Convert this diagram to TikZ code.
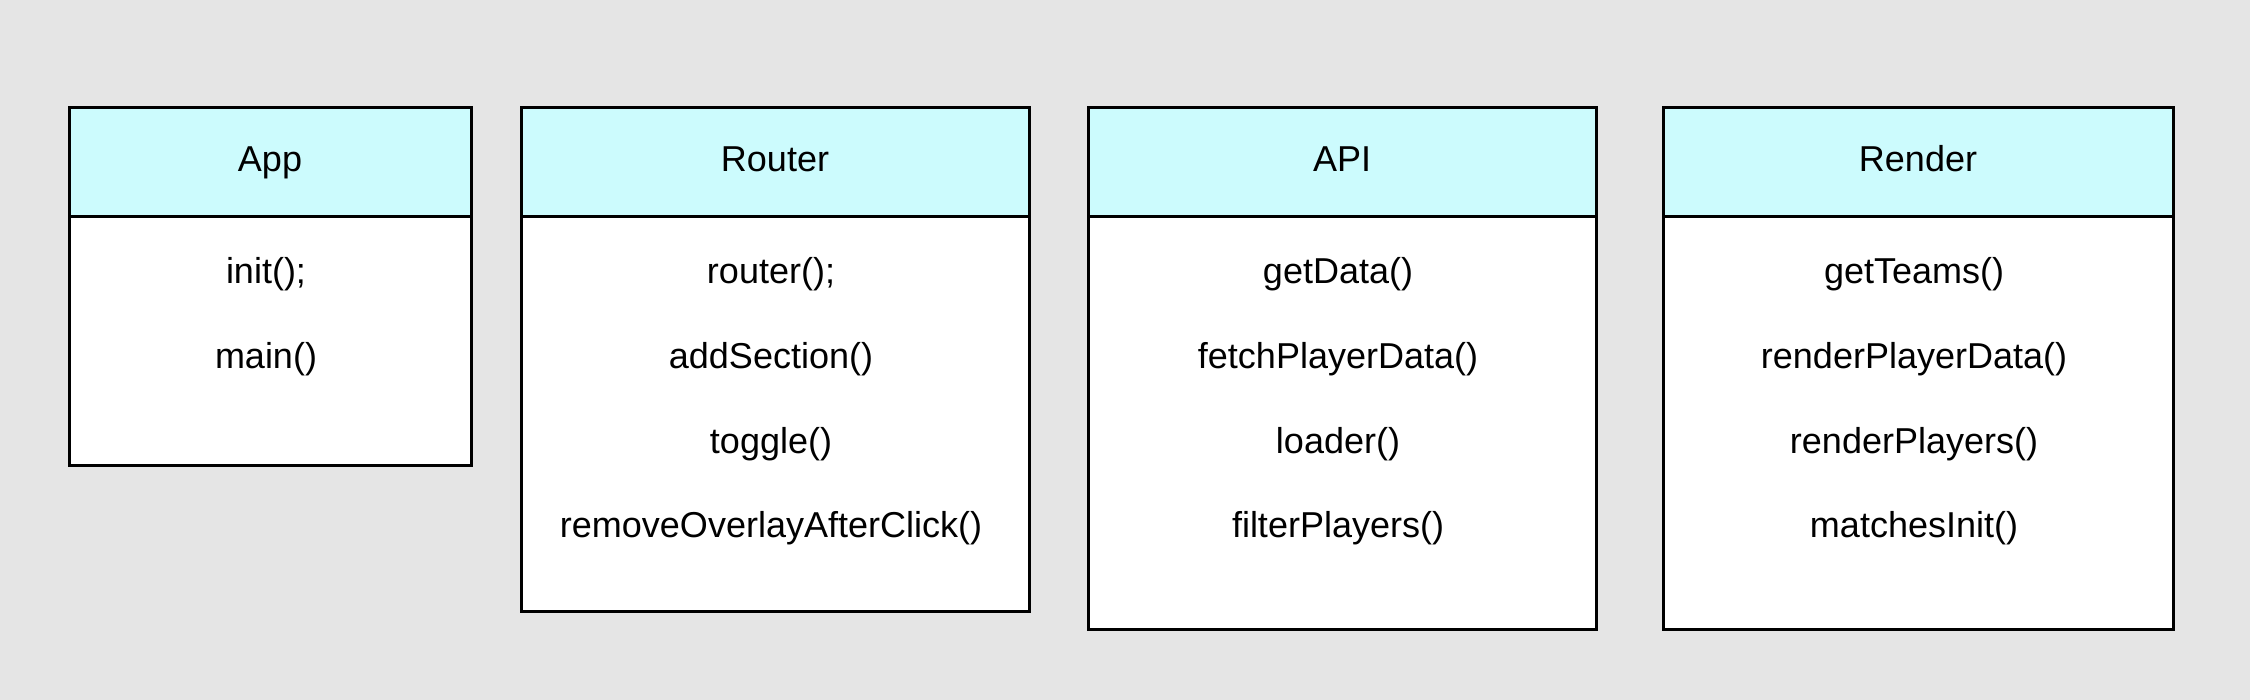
\documentclass[tikz,border=0pt]{standalone}
\usepackage{fontspec}
\setmainfont{Liberation Sans}
\usepackage{xcolor}
\usetikzlibrary{positioning}
\definecolor{bggray}{RGB}{229,229,229}
\definecolor{headcyan}{RGB}{204,251,253}
\tikzset{
        head/.style = {draw, rectangle, fill=headcyan,
            line width=3pt, outer sep=0pt, inner sep=0pt,
            minimum height=109pt, anchor=north west,
            text height=26pt, text depth=8pt,
            font=\fontsize{36}{43}\selectfont},
        body/.style = {draw, rectangle, fill=white,
            line width=3pt, outer sep=0pt, inner sep=0pt},
        item/.style = {inner sep=0pt, font=\fontsize{36}{43}\selectfont},
    }
\begin{document}
\begin{tikzpicture}[x=1pt,y=1pt,yscale=-1,xscale=1]
%background, sets the size of the picture
\fill[bggray] (0,0) rectangle (2250,700);

% App
\node[head, minimum width=402pt] (apphead) at (69,108) {App};
\node[body, minimum width=402pt, minimum height=248pt, below=0pt of apphead] (appbody) {};
\node[item] (appinit) at (266,274) {init();};
\node[item] (appmain) at (266,359) {main()};

% Router
\node[head, minimum width=508pt] (routerhead) at (521,108) {Router};
\node[body, minimum width=508pt, minimum height=394pt, below=0pt of routerhead] (routerbody) {};
\node[item] (routerrouter) at (771,274) {router();};
\node[item] (routeradd) at (771,359) {addSection()};
\node[item] (routertoggle) at (771,444) {toggle()};
\node[item] (routerremove) at (771,528) {removeOverlayAfterClick()};

% API
\node[head, minimum width=508pt] (apihead) at (1088,108) {API};
\node[body, minimum width=508pt, minimum height=412pt, below=0pt of apihead] (apibody) {};
\node[item] (apiget) at (1338,274) {getData()};
\node[item] (apifetch) at (1338,359) {fetchPlayerData()};
\node[item] (apiloader) at (1338,444) {loader()};
\node[item] (apifilter) at (1338,528) {filterPlayers()};

% Render
\node[head, minimum width=510pt] (renderhead) at (1663,108) {Render};
\node[body, minimum width=510pt, minimum height=412pt, below=0pt of renderhead] (renderbody) {};
\node[item] (renderteams) at (1914,274) {getTeams()};
\node[item] (renderdata) at (1914,359) {renderPlayerData()};
\node[item] (renderplayers) at (1914,444) {renderPlayers()};
\node[item] (rendermatches) at (1914,528) {matchesInit()};

\end{tikzpicture}
\end{document}
